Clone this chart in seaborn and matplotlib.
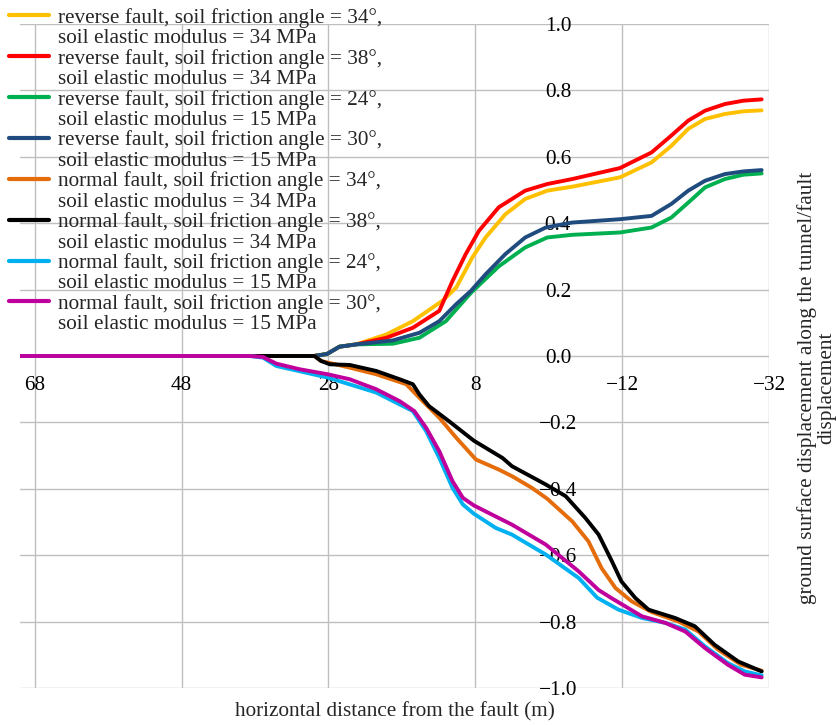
import numpy as np
import pandas as pd
import matplotlib
matplotlib.use("Agg")
import matplotlib.pyplot as plt
from matplotlib.lines import Line2D
from matplotlib.ticker import FuncFormatter
import seaborn as sns

# ---- series definitions -------------------------------------------------
fault_types = ["reverse", "reverse", "reverse", "reverse",
               "normal", "normal", "normal", "normal"]
friction_angles = [34, 38, 24, 30, 34, 38, 24, 30]
elastic_moduli = [34, 34, 15, 15, 34, 34, 15, 15]
colors = ["#FFC000", "#FF0000", "#00B050", "#1F4B7F",
          "#E46C0A", "#000000", "#00B0F0", "#C0009C"]

# horizontal distance from the fault (m) / ground surface displacement ratio
rev34_x = [70, 30, 28.2, 26.5, 24.2, 20.1, 16.5, 12.5, 10.6, 8.4, 6.6, 3.9, 1.2,
           -1.8, -5.2, -11.7, -16.0, -18.7, -21.0, -23.3, -26.0, -28.5, -31.0]
rev34_y = [0, 0, 0.006, 0.028, 0.035, 0.065, 0.105, 0.166, 0.206, 0.297, 0.357,
           0.427, 0.473, 0.498, 0.510, 0.538, 0.583, 0.633, 0.684, 0.714, 0.729,
           0.737, 0.740]

rev38_x = [70, 30, 28.2, 26.5, 24.2, 20.1, 16.5, 12.9, 11.1, 9.3, 7.5, 4.8, 1.2,
           -1.8, -5.2, -11.7, -16.0, -18.7, -21.0, -23.3, -26.0, -28.5, -31.0]
rev38_y = [0, 0, 0.006, 0.028, 0.035, 0.055, 0.085, 0.136, 0.226, 0.307, 0.377,
           0.448, 0.498, 0.518, 0.533, 0.566, 0.613, 0.664, 0.709, 0.739, 0.759,
           0.769, 0.773]

rev24_x = [70, 30, 28.2, 26.5, 24.2, 19.2, 15.6, 12.0, 8.6, 4.8, 1.2, -1.8, -5.2,
           -11.7, -16.0, -18.7, -21.0, -23.3, -26.0, -28.5, -31.0]
rev24_y = [0, 0, 0.006, 0.028, 0.035, 0.037, 0.055, 0.105, 0.190, 0.270, 0.327,
           0.357, 0.365, 0.372, 0.387, 0.417, 0.462, 0.508, 0.533, 0.546, 0.550]

rev30_x = [70, 30, 28.2, 26.5, 24.2, 19.2, 15.6, 12.9, 10.6, 8.6, 6.6, 3.9, 1.2,
           -1.6, -5.2, -11.7, -16.0, -18.7, -21.0, -23.3, -26.0, -28.5, -31.0]
rev30_y = [0, 0, 0.006, 0.028, 0.035, 0.047, 0.070, 0.105, 0.156, 0.196, 0.246,
           0.307, 0.357, 0.387, 0.402, 0.412, 0.422, 0.458, 0.498, 0.528, 0.548,
           0.556, 0.560]

nor34_x = [70, 29.9, 29.0, 25.1, 21.5, 17.4, 15.6, 12.9, 10.6, 7.9, 4.8, 3.0, 0.3,
           -1.8, -5.2, -7.4, -9.2, -11.1, -13.3, -16.0, -19.7, -22.4, -25.1,
           -28.2, -31.0]
nor34_y = [0, 0, -0.015, -0.035, -0.055, -0.085, -0.126, -0.186, -0.246, -0.312,
           -0.342, -0.362, -0.397, -0.430, -0.498, -0.558, -0.639, -0.699, -0.739,
           -0.771, -0.800, -0.830, -0.885, -0.930, -0.948]

nor38_x = [70, 29.9, 29.0, 27.8, 25.1, 21.5, 18.3, 16.5, 15.6, 14.3, 11.6, 8.2,
           4.3, 3.0, -1.6, -4.3, -7.0, -8.8, -10.6, -11.9, -13.8, -15.6, -19.2,
           -21.9, -24.6, -27.8, -31.0]
nor38_y = [0, 0, -0.015, -0.025, -0.027, -0.045, -0.070, -0.085, -0.116, -0.151,
           -0.196, -0.255, -0.307, -0.332, -0.387, -0.422, -0.488, -0.538, -0.618,
           -0.679, -0.729, -0.764, -0.789, -0.814, -0.870, -0.920, -0.950]

nor24_x = [70, 38.7, 36.9, 35.1, 28.1, 21.5, 16.5, 14.7, 12.9, 11.1, 9.7, 8.2, 5.2,
           3.0, -1.6, -6.1, -8.6, -11.5, -14.7, -17.9, -20.6, -23.3, -26.4, -28.7,
           -31.0]
nor24_y = [0, 0, -0.005, -0.030, -0.065, -0.110, -0.166, -0.226, -0.307, -0.397,
           -0.447, -0.475, -0.518, -0.538, -0.598, -0.669, -0.728, -0.764, -0.789,
           -0.804, -0.824, -0.875, -0.925, -0.950, -0.962]

nor30_x = [70, 38.7, 36.9, 35.1, 31.9, 28.1, 25.1, 21.5, 18.3, 16.3, 14.7, 12.9,
           11.1, 9.7, 8.2, 5.7, 3.0, -1.6, -6.1, -8.8, -10.6, -14.7, -17.9, -20.6,
           -23.3, -26.4, -28.7, -31.0]
nor30_y = [0, 0, -0.003, -0.023, -0.040, -0.055, -0.070, -0.100, -0.136, -0.166,
           -0.216, -0.287, -0.377, -0.427, -0.450, -0.478, -0.508, -0.568, -0.649,
           -0.705, -0.730, -0.784, -0.804, -0.830, -0.880, -0.930, -0.960, -0.968]

series_x = [rev34_x, rev38_x, rev24_x, rev30_x, nor34_x, nor38_x, nor24_x, nor30_x]
series_y = [rev34_y, rev38_y, rev24_y, rev30_y, nor34_y, nor38_y, nor24_y, nor30_y]

x_ticks = [68, 48, 28, 8, -12, -32]
y_ticks = [-1.0, -0.8, -0.6, -0.4, -0.2, 0.0, 0.2, 0.4, 0.6, 0.8, 1.0]

# ---- long-form table ----------------------------------------------------
first_lines = [f"{f} fault, soil friction angle = {a}°,"
               for f, a in zip(fault_types, friction_angles)]
second_lines = [f"soil elastic modulus = {m} MPa" for m in elastic_moduli]
keys = [f"s{i}" for i in range(len(fault_types))]

frames = []
for k, xs, ys in zip(keys, series_x, series_y):
    frames.append(pd.DataFrame({"x": xs, "y": ys, "series": k}))
df = pd.concat(frames, ignore_index=True)

# ---- styling --------------------------------------------------------------
sns.set_theme(style="white")
plt.rcParams["font.family"] = ["Liberation Serif", "DejaVu Serif"]
plt.rcParams["axes.unicode_minus"] = True
FS = 15.3

fig = plt.figure(figsize=(8.36, 7.25), dpi=100)
ax = fig.add_axes([20 / 836, 1 - 688 / 725, (769 - 20) / 836, (688 - 24) / 725])

sns.lineplot(data=df, x="x", y="y", hue="series", hue_order=keys,
             palette=dict(zip(keys, colors)), sort=False, estimator=None,
             units="series", linewidth=2.8, legend=False, ax=ax,
             solid_joinstyle="round")

ax.set_xlim(70, -32)
ax.set_ylim(-1.0, 1.0)
ax.set_xticks(x_ticks)
ax.set_yticks(y_ticks)
ax.set_axisbelow(True)
ax.grid(True, color="#bfbfbf", linewidth=1.0)
for sp in ax.spines.values():
    sp.set_color("none")

# x tick labels sit just under the zero line, y tick labels on a crossing axis
ax.spines["bottom"].set_position(("data", 0))
ax.spines["left"].set_position(("data", -3.25))
ax.tick_params(axis="x", length=0, pad=14.5, labelsize=FS, colors="black")
ax.tick_params(axis="y", length=0, pad=0, labelsize=FS, colors="black")
ax.yaxis.set_major_formatter(
    FuncFormatter(lambda v, p: f"{v:.1f}".replace("-0.0", "0.0").replace("-", "\u2212")))
for lab in ax.get_yticklabels():
    lab.set_horizontalalignment("center")
    lab.set_verticalalignment("center_baseline")
ax.set_xlabel("")
ax.set_ylabel("")

fig.text(395 / 836, 1 - 712 / 725, "horizontal distance from the fault (m)",
         ha="center", va="center", fontsize=FS)
fig.text(817 / 836, 1 - 388 / 725,
         "ground surface displacement along the tunnel/fault\ndisplacement",
         rotation=90, ha="center", va="center", multialignment="center",
         fontsize=FS, linespacing=1.0)

# legend: one row per text line, coloured handle beside the first line
handles, labels = [], []
for c, l1, l2 in zip(colors, first_lines, second_lines):
    handles.append(Line2D([], [], color=c, linewidth=3.0))
    labels.append(l1)
    handles.append(Line2D([], [], linestyle="none"))
    labels.append(l2)
leg = fig.legend(handles, labels, loc="upper left",
                 bbox_to_anchor=(9 / 836, 1 - 8 / 725), frameon=False,
                 fontsize=FS, handlelength=1.9, handletextpad=0.4,
                 labelspacing=0.025, borderpad=0, borderaxespad=0)

fig.savefig("out.png", dpi=100)
